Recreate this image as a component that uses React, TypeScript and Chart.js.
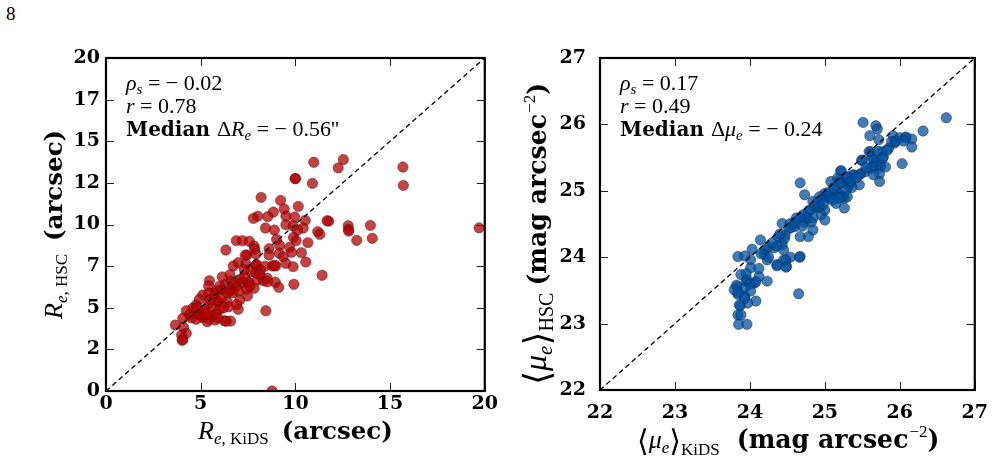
import React, { useEffect, useRef } from "react";
import { Chart, registerables } from "chart.js";

Chart.register(...registerables);

// Effective radius, KiDS vs HSC (arcsec)
const reKids = [
  19.7, 8.77, 12.53, 12.26, 15.68, 15.7, 11.76, 12.79, 12.8, 12.82, 13.24, 13.96, 14.06,
  10.97, 9.99, 10.0, 10.9, 8.19, 9.22, 10.15, 9.41, 8.84, 9.5, 8.54, 8.01, 7.78, 9.96, 10.52, 11.67,
  9.5, 9.88, 10.41, 8.42, 8.89, 10.11, 9.9, 10.04, 11.18, 11.29, 9.01, 6.88, 7.21, 7.57, 7.82, 10.66,
  6.33, 8.61, 9.17, 9.69, 7.86, 7.44, 7.91, 8.61, 9.15, 9.36, 9.8, 10.32, 10.55, 9.49, 9.88, 8.78,
  8.96, 8.9, 6.98, 6.72, 7.39, 7.91, 7.95, 7.66, 7.91, 8.17, 8.52, 8.94, 9.12, 9.92, 11.41, 6.14,
  6.55, 5.46, 5.42, 7.09, 7.21, 7.52, 7.55, 8.01, 8.33, 8.52, 7.82, 7.42, 6.86, 6.53, 6.55, 6.13,
  5.81, 5.72, 5.11, 5.42, 5.9, 5.92, 6.4, 7.07, 7.47, 6.98, 8.44, 6.47, 4.93, 5.42, 4.76, 4.58,
  5.02, 4.24, 4.41, 5.07, 5.1, 5.46, 5.81, 5.77, 6.25, 6.58, 5.34, 4.76, 4.06, 3.66, 4.09, 4.24,
  3.99, 4.02, 4.06, 6.34, 5.6, 6.1, 6.7, 6.3, 5.2, 4.9, 5.6, 6.0, 6.8, 7.3, 6.0, 5.5, 6.4, 7.0,
  4.5, 4.8, 5.9, 6.9, 7.6, 8.1, 8.4, 7.3, 6.6, 6.2, 5.3, 7.35,
];
const reHsc = [
  9.8, 0.0, 13.9, 13.4, 13.45, 12.35, 10.2, 9.93, 9.7, 9.6, 9.05, 9.95, 9.17,
  13.74, 12.77, 12.75, 12.47, 11.63, 11.45, 11.09, 10.93, 10.75, 10.5, 10.47, 10.5, 10.37, 10.45, 10.25, 10.23,
  9.99, 9.91, 9.79, 9.79, 9.67, 9.67, 9.23, 9.03, 9.57, 9.41, 9.11, 9.03, 9.03, 8.99, 8.71, 8.91,
  8.47, 8.55, 8.75, 8.63, 8.51, 8.17, 8.23, 8.17, 8.27, 8.07, 8.33, 8.31, 7.75, 7.67, 7.47, 7.51,
  7.51, 7.55, 7.71, 7.51, 7.63, 7.57, 7.6, 7.15, 7.11, 7.27, 6.77, 6.53, 6.23, 6.41, 6.95, 6.85,
  6.99, 6.62, 6.31, 6.71, 6.53, 6.53, 6.5, 6.67, 6.62, 6.56, 6.17, 6.11, 6.26, 6.02, 6.0, 6.11,
  6.02, 5.83, 5.77, 5.87, 5.36, 5.38, 5.36, 5.47, 5.71, 4.91, 4.82, 5.06, 5.51, 5.23, 5.17, 4.97,
  4.76, 4.82, 4.56, 4.43, 4.45, 4.32, 4.67, 4.26, 4.22, 4.2, 4.16, 4.31, 4.37, 3.96, 3.83, 3.47,
  3.36, 3.04, 3.1, 4.19, 5.0, 5.6, 5.9, 6.4, 4.9, 4.6, 4.5, 4.9, 6.5, 6.9, 6.3, 5.5, 5.9, 6.0,
  4.4, 5.0, 4.4, 5.2, 6.3, 7.0, 7.5, 7.3, 6.6, 5.0, 4.6, 8.15,
];

// Mean effective surface brightness, KiDS vs HSC (mag arcsec^-2)
const muKids = [
  26.62, 26.31, 25.51, 25.68, 25.7, 25.6, 25.72, 25.91, 26.0, 26.08, 26.16, 26.16, 26.03, 25.93,
  25.85, 25.76, 25.59, 25.63, 25.78, 25.5, 25.67, 25.61, 25.74, 25.73, 25.73, 25.48, 25.39, 25.21,
  25.28, 25.19, 25.08, 25.32, 25.46, 24.67, 24.73, 25.0, 25.13, 25.19, 25.06, 24.93, 25.26, 25.15,
  25.26, 24.84, 24.89, 24.8, 25.0, 24.95, 24.71, 24.84, 24.62, 24.43, 24.54, 24.73, 24.6,
  24.14, 23.84, 24.01, 24.19, 24.2, 24.32, 24.43, 24.23, 24.36, 24.49, 24.54, 24.67, 24.45, 24.65,
  24.01, 23.88, 24.12, 24.06, 24.23, 23.95, 23.83, 23.84, 23.93, 24.08, 23.97, 23.87, 23.84, 23.88,
  23.85, 23.96, 23.93, 23.79, 24.01,
  25.02, 25.11, 25.24, 25.32, 25.22, 24.86, 24.78, 24.76, 24.82, 24.67, 25.0, 24.84, 24.78, 24.67,
  24.52, 24.47, 24.38, 24.46, 24.36, 24.45, 24.25, 24.03, 23.93, 24.12, 23.96, 24.08, 23.82, 23.84,
  23.93, 23.86, 24.48, 24.36, 24.48, 24.66,
  25.83, 25.89, 26.08, 25.61, 25.49, 25.65, 25.77, 25.74, 25.81, 25.63, 25.54, 25.65, 25.46, 25.37,
  25.3, 25.22, 25.17, 25.19, 25.36, 25.28, 25.3, 25.19, 25.02, 24.95, 24.93,
  24.9, 25.05, 25.12, 24.98, 24.55, 24.4, 24.6, 24.7, 25.35, 25.42, 25.55, 25.7, 25.95, 26.05,
  24.3, 24.25, 24.15, 23.95, 24.0, 25.1,
];
const muHsc = [
  26.1, 25.9, 26.03, 25.98, 25.93, 25.83, 25.77, 25.83, 25.8, 25.8, 25.78, 25.66, 25.41, 25.72,
  25.64, 25.59, 25.59, 25.51, 25.51, 25.46, 25.42, 25.34, 25.36, 25.26, 25.14, 25.26, 25.24, 25.3,
  25.21, 25.16, 25.14, 25.11, 25.09, 25.12, 24.94, 24.96, 25.01, 24.96, 24.89, 24.91, 24.89, 24.81,
  24.74, 24.84, 24.74, 24.71, 24.71, 24.64, 24.64, 24.59, 24.59, 24.51, 24.51, 24.52, 24.46,
  24.26, 24.01, 23.96, 24.05, 24.11, 24.14, 24.19, 23.96, 23.89, 23.86, 24.0, 24.01, 23.96, 23.45,
  23.84, 23.74, 23.71, 23.61, 23.64, 23.64, 23.56, 23.44, 23.41, 23.34, 23.31, 23.27, 23.13, 23.13,
  22.99, 22.99, 23.54, 23.51, 23.49,
  24.92, 24.95, 24.92, 25.07, 25.12, 24.76, 24.69, 24.59, 24.53, 24.59, 24.56, 24.41, 24.31, 24.31,
  24.43, 24.33, 24.31, 24.28, 24.17, 24.11, 24.16, 24.12, 24.02, 23.83, 23.67, 23.63, 23.58, 23.47,
  23.38, 23.28, 23.96, 23.87, 23.85, 24.0,
  25.61, 25.74, 25.81, 25.59, 25.46, 25.46, 25.49, 25.39, 25.36, 25.36, 25.29, 25.24, 25.24, 25.24,
  25.21, 25.3, 25.19, 25.11, 25.05, 25.01, 24.91, 24.89, 24.91, 24.86, 24.76,
  24.82, 24.98, 25.05, 24.8, 24.45, 24.35, 24.52, 24.47, 25.15, 25.2, 25.35, 25.6, 25.75, 25.75,
  24.22, 24.0, 24.05, 23.75, 23.6, 24.86,
];

// Axis ranges and tick spacing
const reRange = [0, 20];
const reXStep = 5;
const reYStep = 2.5;
const muRange = [22, 27];
const muStep = 1;

// Statistics printed in each panel
const reStats = { rho: "0.02", rhoSign: "−", r: "0.78", median: "0.56" };
const muStats = { rho: "0.17", rhoSign: "", r: "0.49", median: "0.24" };

type Seg = { t: string; font: string; dy?: number; gap?: number };

const MI = (px: number) => `italic ${px}px "Liberation Serif"`;
const MR = (px: number) => `${px}px "Liberation Serif"`;
const BD = (px: number) => `bold ${px}px "DejaVu Serif"`;
const ANG = (px: number) => `${px}px "DejaVu Sans"`;

// Draws a run of differently styled text pieces starting at (x, y);
// when rotated the run goes upward from that point.
function drawRich(
  ctx: CanvasRenderingContext2D,
  segs: Seg[],
  x: number,
  y: number,
  rotate = false
) {
  ctx.save();
  ctx.translate(x, y);
  if (rotate) ctx.rotate(-Math.PI / 2);
  ctx.textAlign = "left";
  ctx.textBaseline = "alphabetic";
  ctx.fillStyle = "#000";
  let cx = 0;
  segs.forEach((s) => {
    if (s.gap) {
      cx += s.gap;
      return;
    }
    ctx.font = s.font;
    ctx.fillText(s.t, cx, s.dy || 0);
    cx += ctx.measureText(s.t).width;
  });
  ctx.restore();
}

type PanelCfg = {
  xs: number[];
  ys: number[];
  range: number[];
  xStep: number;
  yStep: number;
  area: { left: number; right: number; top: number; bottom: number };
  xTickPad: number;
  yTickPad: number;
  fill: string;
  edge: string;
  xTitle: Seg[];
  yTitle: Seg[];
  xTitlePos: [number, number];
  yTitlePos: [number, number];
  notes: Seg[][];
  notesX: number;
};

const W = 500;
const H = 466;

const panelDecor = {
  id: "panelDecor",
  afterDraw(chart: any, _args: any, opts: any) {
    const ctx: CanvasRenderingContext2D = chart.ctx;
    const a = chart.chartArea;
    const xs = chart.scales.x;
    const ys = chart.scales.y;
    const tl = 8;
    ctx.save();
    // inward tick marks on all four sides
    ctx.strokeStyle = "#222";
    ctx.lineWidth = 1;
    ctx.beginPath();
    xs.ticks.forEach((_t: any, i: number) => {
      const px = Math.round(xs.getPixelForTick(i)) + 0.5;
      ctx.moveTo(px, a.bottom);
      ctx.lineTo(px, a.bottom - tl);
      ctx.moveTo(px, a.top);
      ctx.lineTo(px, a.top + tl);
    });
    ys.ticks.forEach((_t: any, i: number) => {
      const py = Math.round(ys.getPixelForTick(i)) + 0.5;
      ctx.moveTo(a.left, py);
      ctx.lineTo(a.left + tl, py);
      ctx.moveTo(a.right, py);
      ctx.lineTo(a.right - tl, py);
    });
    ctx.stroke();
    // frame
    ctx.strokeStyle = "#000";
    ctx.lineWidth = 2.2;
    ctx.strokeRect(a.left, a.top, a.right - a.left, a.bottom - a.top);
    ctx.restore();

    const cfg: PanelCfg = opts.cfg;
    drawRich(ctx, cfg.xTitle, cfg.xTitlePos[0], cfg.xTitlePos[1]);
    drawRich(ctx, cfg.yTitle, cfg.yTitlePos[0], cfg.yTitlePos[1], true);
    const lineYs = [90, 113, 136];
    cfg.notes.forEach((segs, i) => drawRich(ctx, segs, cfg.notesX, lineYs[i]));
  },
};

function makeChart(canvas: HTMLCanvasElement, cfg: PanelCfg) {
  const pts = cfg.xs.map((x, i) => ({ x, y: cfg.ys[i] }));
  const [lo, hi] = cfg.range;
  const tickFont = { family: "DejaVu Serif", weight: "bold" as const, size: 19 };
  return new Chart(canvas, {
    type: "scatter",
    data: {
      datasets: [
        {
          type: "line",
          data: [
            { x: lo, y: lo },
            { x: hi, y: hi },
          ],
          borderColor: "#000",
          borderWidth: 1.3,
          borderDash: [5, 3.5],
          pointRadius: 0,
          fill: false,
          order: 0,
          clip: 0,
        } as any,
        {
          data: pts,
          pointRadius: 5.2,
          pointBackgroundColor: cfg.fill,
          pointBorderColor: cfg.edge,
          pointBorderWidth: 0.7,
          order: 1,
          clip: 0,
        } as any,
      ],
    },
    options: {
      responsive: false,
      animation: false,
      devicePixelRatio: 1,
      layout: {
        padding: { left: 0, top: cfg.area.top, right: W - cfg.area.right, bottom: 0 },
      },
      plugins: {
        legend: { display: false },
        tooltip: { enabled: false },
        panelDecor: { cfg },
      } as any,
      scales: {
        x: {
          type: "linear",
          min: lo,
          max: hi,
          afterFit: (s: any) => {
            s.height = H - cfg.area.bottom;
          },
          grid: { display: false, drawTicks: false },
          border: { display: false },
          ticks: {
            stepSize: cfg.xStep,
            padding: cfg.xTickPad,
            color: "#000",
            font: tickFont,
            maxRotation: 0,
            autoSkip: false,
            callback: (v: any) => String(Math.floor(Number(v))),
          },
        },
        y: {
          type: "linear",
          min: lo,
          max: hi,
          afterFit: (s: any) => {
            s.width = cfg.area.left;
          },
          grid: { display: false, drawTicks: false },
          border: { display: false },
          ticks: {
            stepSize: cfg.yStep,
            padding: cfg.yTickPad,
            color: "#000",
            font: tickFont,
            autoSkip: false,
            callback: (v: any) => String(Math.floor(Number(v))),
          },
        },
      },
    },
    plugins: [panelDecor],
  });
}

const notes = (st: typeof reStats, sym: string, unit: string): Seg[][] => [
  [
    { t: "ρ", font: MI(22) },
    { t: "s", font: MI(15), dy: 4 },
    { t: ` = ${st.rhoSign ? st.rhoSign + " " : ""}${st.rho}`, font: MR(22) },
  ],
  [
    { t: "r", font: MI(22) },
    { t: ` = ${st.r}`, font: MR(22) },
  ],
  [
    { t: "Median ", font: BD(20) },
    { t: "Δ", font: MR(22) },
    { t: sym, font: MI(22) },
    { t: "e", font: MI(15), dy: 4 },
    { t: ` = − ${st.median}${unit}`, font: MR(22) },
  ],
];

const TB_RE = 24.5;
const TB_MU = 25.2;

const leftCfg: PanelCfg = {
  xs: reKids,
  ys: reHsc,
  range: reRange,
  xStep: reXStep,
  yStep: reYStep,
  area: { left: 106, right: 487, top: 58, bottom: 391 },
  xTickPad: 2,
  yTickPad: 6,
  fill: "rgba(182,0,0,0.75)",
  edge: "rgba(50,0,0,0.55)",
  xTitle: [
    { t: "R", font: MI(26) },
    { t: "e", font: MI(17), dy: 5 },
    { t: ", KiDS", font: MR(17), dy: 5 },
    { t: "", font: "", gap: 13 },
    { t: "(arcsec)", font: BD(TB_RE) },
  ],
  yTitle: [
    { t: "R", font: MI(26) },
    { t: "e", font: MI(17), dy: 5 },
    { t: ", HSC", font: MR(17), dy: 5 },
    { t: "", font: "", gap: 13 },
    { t: "(arcsec)", font: BD(TB_RE) },
  ],
  xTitlePos: [198, 439],
  yTitlePos: [62, 319],
  notes: notes(reStats, "R", "''"),
  notesX: 126,
};

const rightCfg: PanelCfg = {
  xs: muKids,
  ys: muHsc,
  range: muRange,
  xStep: muStep,
  yStep: muStep,
  area: { left: 100, right: 481, top: 58, bottom: 390 },
  xTickPad: 12,
  yTickPad: 14,
  fill: "rgba(0,81,161,0.75)",
  edge: "rgba(0,20,50,0.55)",
  xTitle: [
    { t: "⟨", font: ANG(30), dy: 3 },
    { t: "μ", font: MI(26) },
    { t: "e", font: MI(17), dy: 5 },
    { t: "⟩", font: ANG(30), dy: 3 },
    { t: "KiDS", font: MR(17), dy: 7 },
    { t: "", font: "", gap: 17 },
    { t: "(mag arcsec", font: BD(TB_MU) },
    { t: "", font: "", gap: 1 },
    { t: "−2", font: MR(17), dy: -11 },
    { t: ")", font: BD(TB_MU) },
  ],
  yTitle: [
    { t: "⟨", font: ANG(36), dy: 3 },
    { t: "μ", font: MI(32) },
    { t: "e", font: MI(21), dy: 6 },
    { t: "⟩", font: ANG(36), dy: 3 },
    { t: "HSC", font: MR(20), dy: 7 },
    { t: "", font: "", gap: 7 },
    { t: "(mag arcsec", font: BD(TB_MU) },
    { t: "", font: "", gap: 1 },
    { t: "−2", font: MR(17), dy: -11 },
    { t: ")", font: BD(TB_MU) },
  ],
  xTitlePos: [137, 448],
  yTitlePos: [46, 385],
  notes: notes(muStats, "μ", ""),
  notesX: 120,
};

export default function App() {
  const leftRef = useRef<HTMLCanvasElement>(null);
  const rightRef = useRef<HTMLCanvasElement>(null);

  useEffect(() => {
    const charts: Chart[] = [];
    if (leftRef.current) charts.push(makeChart(leftRef.current, leftCfg));
    if (rightRef.current) charts.push(makeChart(rightRef.current, rightCfg));
    return () => charts.forEach((c) => c.destroy());
  }, []);

  return (
    <div
      style={{
        position: "fixed",
        left: 0,
        top: 0,
        width: 1000,
        height: 466,
        background: "#fff",
        overflow: "hidden",
      }}
    >
      <div
        style={{
          position: "absolute",
          left: 6,
          top: 3,
          fontFamily: '"Liberation Serif", serif',
          fontSize: 19,
          lineHeight: "22px",
          color: "#000",
        }}
      >
        8
      </div>
      <canvas
        ref={leftRef}
        width={W}
        height={H}
        style={{ position: "absolute", left: 0, top: 0, width: W, height: H }}
      />
      <canvas
        ref={rightRef}
        width={W}
        height={H}
        style={{ position: "absolute", left: 500, top: 0, width: W, height: H }}
      />
    </div>
  );
}
